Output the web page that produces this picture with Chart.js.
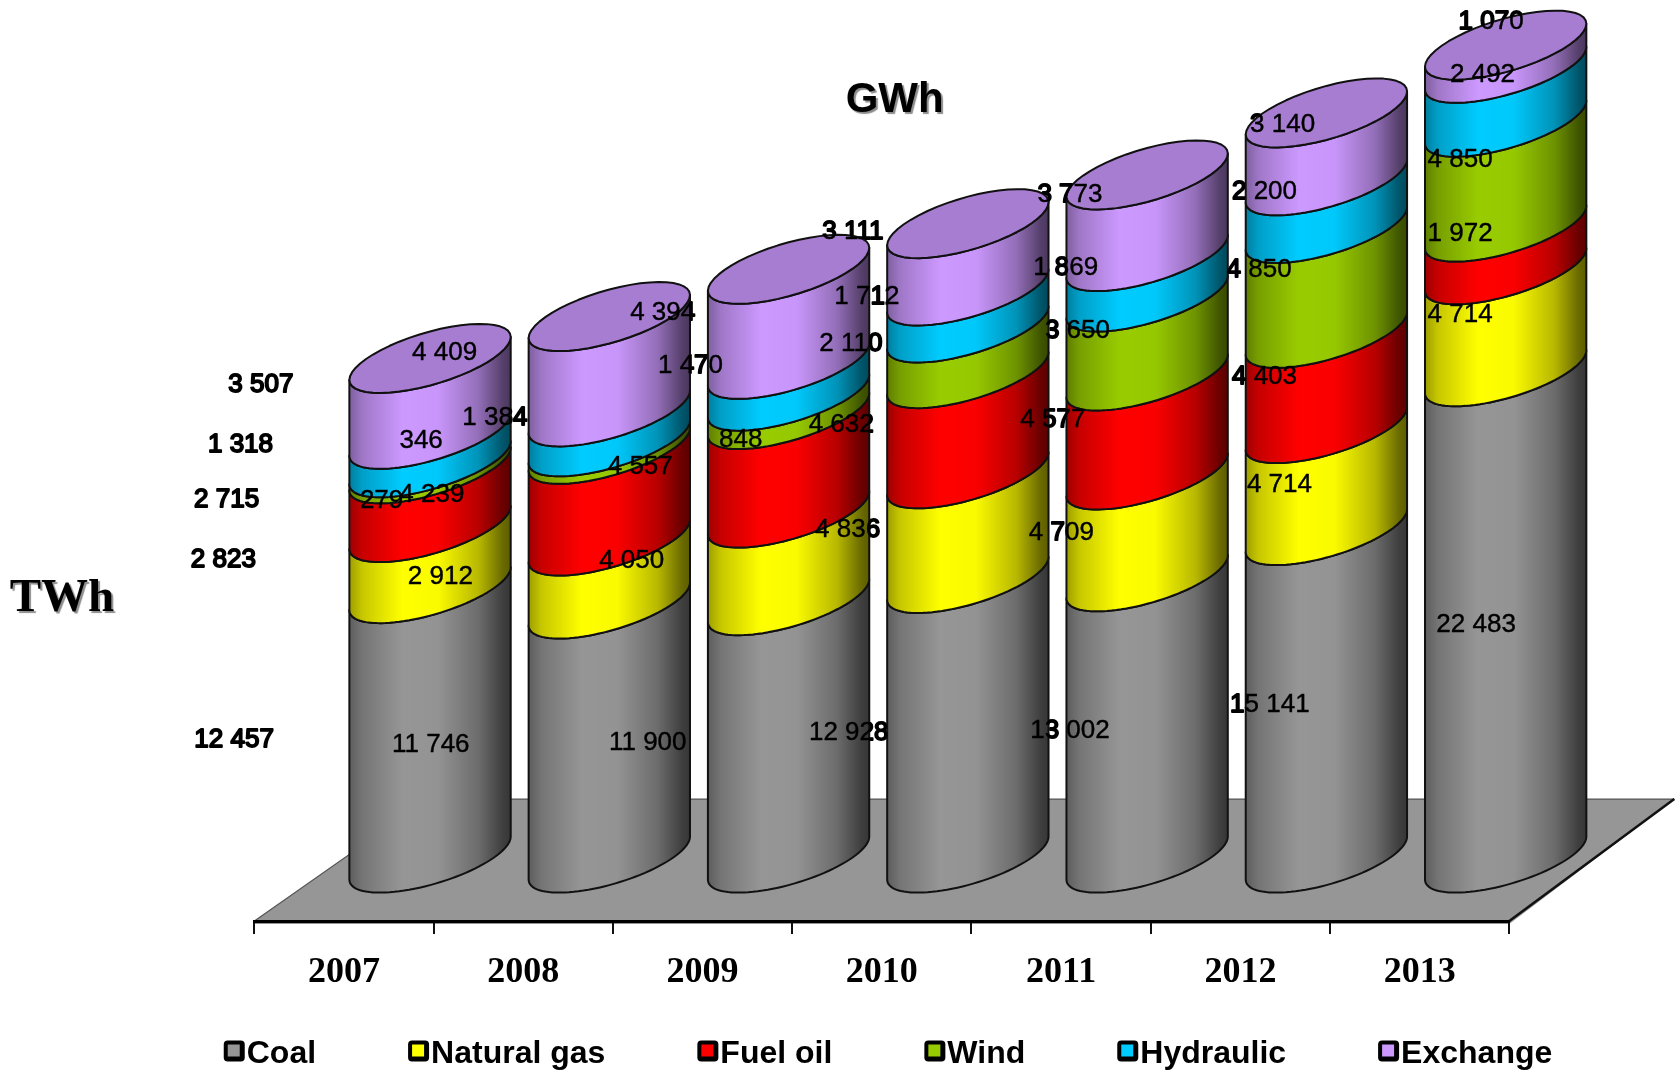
<!DOCTYPE html>
<html><head><meta charset="utf-8">
<style>html,body{margin:0;padding:0;background:#fff}canvas{display:block}</style>
<script src="https://cdn.jsdelivr.net/npm/chart.js@4"></script>
</head><body><canvas id="c" width="1676" height="1071"></canvas>
<script>
const categories = ['2007','2008','2009','2010','2011','2012','2013'];
const coal     = [12457,11746,11900,12928,13002,15141,22483];
const gas      = [2823,2912,4050,4836,4709,4714,4714];
const fuelOil  = [2715,4239,4557,4632,4577,4403,1972];
const wind     = [279,346,848,2110,3650,4850,4850];
const hydro    = [1318,1384,1470,1712,1869,2200,2492];
const exchange = [3507,4409,4394,3111,3773,3140,1070];
const seriesNames = ['Coal','Natural gas','Fuel oil','Wind','Hydraulic','Exchange'];
const seriesValues = [coal,gas,fuelOil,wind,hydro,exchange];
const seriesColors = ['#969696','#ffff00','#ff0000','#99cc00','#00ccff','#cc99ff'];

// Hand-placed label centres (x,y), per series then per year, as in the original slide.
const S = 1676/1568;
const labelPlaces = [
 [[219,690],[403,695],[606,693],[794,684],[1001,682],[1188,658],[1381,583]],
 [[209,522],[412,538],[591,523],[793,494],[993,497],[1197,452],[1366,293]],
 [[212,466],[404,461],[599,435],[787,396],[985,391],[1183,351],[1366,217]],
 [[357,467],[394,411],[693,410],[796,320],[1008,308],[1178,251],[1366,148]],
 [[225,414],[463,389],[646,340],[811,276],[997,249],[1183,178],[1387,68]],
 [[244,358],[416,328],[620,291],[798,215],[1001,180],[1200,115],[1395,19]]
];
// Depth projection of the cylinders
const DEPTH_X = 86, DEPTH_Y = -63, TILT = 21.5/80.7, MINOR = 27;
const fmt = v => String(v).replace(/\B(?=(\d{3})+$)/g,' ');
const rgb = h => [1,3,5].map(i=>parseInt(h.slice(i,i+2),16));
const shade = (h,f) => { const c=rgb(h).map(v=>Math.round(v*f)); return `rgb(${c[0]},${c[1]},${c[2]})`; };
const stops = [[0,.62],[.08,.78],[.33,1],[.55,.98],[.8,.72],[.95,.42],[1,.36]];

function arc(ctx,cx,cy,a,from,to,first){
  const n=48;
  for(let k=0;k<=n;k++){
    const t=from+(to-from)*k/n, x=cx+a*Math.cos(t), y=cy-TILT*a*Math.cos(t)+MINOR*Math.sin(t);
    if(k===0&&first) ctx.moveTo(x,y); else ctx.lineTo(x,y);
  }
}
function eachLabel(fn){
  seriesValues.forEach((vals,i)=>vals.forEach((v,j)=>{
    const p=labelPlaces[i][j]; fn(fmt(v),p[0]*S,p[1]*S+2);
  }));
}
const slide3d = {
  id:'slide3d',
  beforeLayout(chart){
    chart.legend.afterFit = function(){ this.height = 60; };
  },
  afterLayout(chart){
    const l=chart.legend, pad=l.options.labels.padding;
    l.top = 1054-16-pad; l.bottom = 1071;
    chart.scales.x.bottom = chart.height;
  },
  beforeDraw(chart){
    const ctx=chart.ctx,a=chart.chartArea;
    ctx.save();
    ctx.fillStyle='#fff'; ctx.fillRect(0,0,chart.width,chart.height);
    // floor
    const backY=a.bottom-122;
    ctx.fillStyle='#969696';
    ctx.beginPath();
    ctx.moveTo(a.left,a.bottom+3); ctx.lineTo(a.right,a.bottom+3);
    ctx.lineTo(a.right+165,backY); ctx.lineTo(a.left+174,backY); ctx.lineTo(a.left,a.bottom);
    ctx.closePath(); ctx.fill();
    ctx.strokeStyle='#555'; ctx.lineWidth=1.2;
    ctx.beginPath(); ctx.moveTo(a.left,a.bottom); ctx.lineTo(a.left+174,backY); ctx.lineTo(a.right+165,backY); ctx.stroke();
    ctx.strokeStyle='#111'; ctx.lineWidth=2.5;
    ctx.beginPath(); ctx.moveTo(a.right,a.bottom); ctx.lineTo(a.right+165,backY); ctx.stroke();
    ctx.restore();
  },
  beforeDatasetsDraw(chart){
    const ctx=chart.ctx;
    const labelFont='26px "Liberation Sans"';
    ctx.save();
    ctx.textAlign='center'; ctx.textBaseline='middle';
    // bold underlay: only visible where it falls on the white page
    ctx.font=labelFont; ctx.strokeStyle='#000'; ctx.lineWidth=1.8; ctx.lineJoin='round';
    eachLabel((t,x,y)=>ctx.strokeText(t,x,y));
    // titles
    ctx.fillStyle='#000';
    ctx.save();
    ctx.shadowColor='rgba(0,0,0,.45)'; ctx.shadowOffsetX=2; ctx.shadowOffsetY=2; ctx.shadowBlur=1;
    ctx.font='bold 42px "Liberation Sans"'; ctx.fillText('GWh',837*S,92*S+2);
    ctx.font='bold 47px "Liberation Serif"'; ctx.fillText('TWh',58*S,558*S+2);
    ctx.restore();

    // cylinders, read from the bar elements of the chart
    const metas=chart.data.datasets.map((d,i)=>chart.getDatasetMeta(i));
    categories.forEach((c,j)=>{
      const first=metas[0].data[j], cx=first.x+DEPTH_X, A=first.width/2;
      metas.forEach((m,i)=>{
        const el=m.data[j], yTop=el.y+DEPTH_Y, yBot=el.base+DEPTH_Y, col=seriesColors[i];
        const g=ctx.createLinearGradient(cx-A,0,cx+A,0);
        stops.forEach(s=>g.addColorStop(s[0],shade(col,s[1])));
        ctx.beginPath();
        arc(ctx,cx,yBot,A,0,Math.PI,true);
        arc(ctx,cx,yTop,A,Math.PI,0,false);
        ctx.closePath();
        ctx.fillStyle=g; ctx.fill();
        ctx.strokeStyle='#111'; ctx.lineWidth=2; ctx.stroke();
      });
      const last=metas[metas.length-1].data[j], yTop=last.y+DEPTH_Y;
      ctx.beginPath();
      arc(ctx,cx,yTop,A,0,Math.PI*2,true);
      ctx.closePath();
      ctx.fillStyle=shade(seriesColors[seriesColors.length-1],.82); ctx.fill();
      ctx.strokeStyle='#111'; ctx.lineWidth=2; ctx.stroke();
    });
    // value labels on top
    ctx.fillStyle='#000'; ctx.font=labelFont; ctx.strokeStyle='#000'; ctx.lineWidth=.4;
    eachLabel((t,x,y)=>{ctx.fillText(t,x,y);ctx.strokeText(t,x,y);});
    ctx.restore();
    return false;
  },
  afterDraw(chart){
    const ctx=chart.ctx,l=chart.legend;
    ctx.save();
    l.legendHitBoxes.forEach((h,i)=>{
      const x=h.left,y=1040.5,w=21;
      ctx.fillStyle='#000';
      ctx.beginPath(); ctx.roundRect(x,y,w,w,4); ctx.fill();
      ctx.fillStyle=seriesColors[i];
      ctx.fillRect(x+4,y+4,w-9,w-9);
    });
    ctx.restore();
  }
};

new Chart(document.getElementById('c'),{
  type:'bar',
  data:{labels:categories,datasets:seriesNames.map((n,i)=>({
    label:n,data:seriesValues[i],backgroundColor:seriesColors[i],yAxisID:'y'
  }))},
  plugins:[slide3d],
  options:{
    responsive:false,animation:false,devicePixelRatio:1,
    barPercentage:.9,categoryPercentage:1,
    layout:{padding:{left:100,right:0,top:0,bottom:0}},
    plugins:{
      tooltip:{enabled:false},title:{display:false},
      legend:{display:true,position:'bottom',
        labels:{boxWidth:7,boxHeight:21,padding:92,color:'#000',
          font:{family:'"Liberation Sans"',weight:'bold',size:32},
          generateLabels(ch){
            return Chart.defaults.plugins.legend.labels.generateLabels(ch)
              .map(o=>Object.assign(o,{fillStyle:'rgba(0,0,0,0)',strokeStyle:'rgba(0,0,0,0)',lineWidth:0}));
          }}}
    },
    scales:{
      x:{stacked:true,offset:true,
        grid:{offset:true,drawOnChartArea:false,drawTicks:true,tickLength:13,color:'#111',lineWidth:2},
        border:{display:true,color:'#000',width:3},
        ticks:{color:'#000',padding:17,maxRotation:0,autoSkip:false,
          font:{family:'"Liberation Serif"',weight:'bold',size:36}},
        afterFit(s){s.height=15.9;}},
      y:{stacked:true,min:0,max:42580,position:'left',
        grid:{display:false},border:{display:false},ticks:{display:false},
        afterFit(s){s.width=154.4;}},
      y2:{min:0,max:1,position:'right',
        grid:{display:false},border:{display:false},ticks:{display:false},
        afterFit(s){s.width=166.7;}}
    }
  }
});
</script></body></html>
